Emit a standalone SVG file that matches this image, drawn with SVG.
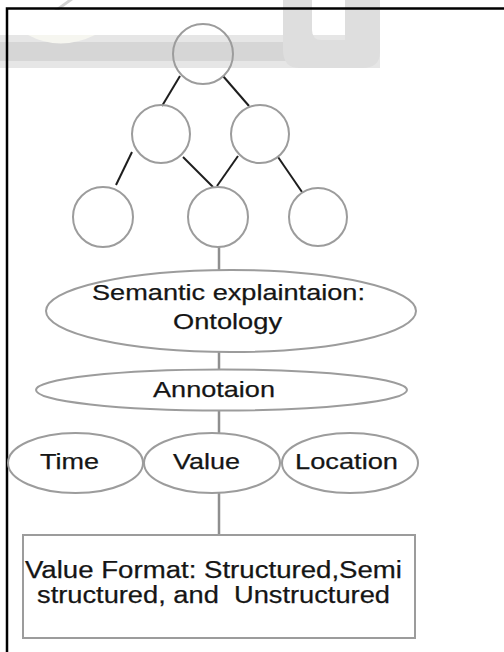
<svg xmlns="http://www.w3.org/2000/svg" width="504" height="652" viewBox="0 0 504 652">
<style>
.node{fill:#fff;stroke:#9c9c9c;stroke-width:2}
.circ{fill:none;stroke:#9c9c9c;stroke-width:2}
.edge{stroke:#1e1e1e;stroke-width:2;fill:none}
.vline{stroke:#8f8f8f;stroke-width:2.5;fill:none}
.lbl{font-family:"Liberation Sans",Arial,sans-serif;font-size:22.5px;fill:#151515;stroke:#151515;stroke-width:0.25}
.big{font-size:23.5px}
.frame{stroke:#000;stroke-width:2.5;fill:none}
.wm{fill:#d6d6d6}
</style>
<rect width="504" height="652" fill="#fff"/>
<g id="watermark">
<rect x="0" y="35" width="380" height="33" fill="#e6e6e6"/>
<rect x="0" y="42" width="372" height="19" class="wm"/>
<path d="M28 35 Q60 52 95 35 Z" fill="#f6f6f0"/>
<path d="M283 0 H312 V30 Q312 40 322 40 H345 V0 H380 V52 Q380 68 362 68 H300 Q283 68 283 50 Z" fill="#dedede"/>
<path d="M54 10 L68 0 H73 L59 10 Z" fill="#d2d2d2"/>
</g>
<g id="frame">
<path class="frame" d="M7 652 V8.5 H504"/>
</g>
<g id="connectors">
<line class="edge" x1="180" y1="76" x2="162" y2="106"/>
<line class="edge" x1="223" y1="76" x2="249" y2="106"/>
<line class="edge" x1="132" y1="152" x2="116" y2="185"/>
<line class="edge" x1="183" y1="157" x2="213" y2="187"/>
<line class="edge" x1="238" y1="156" x2="217" y2="186"/>
<line class="edge" x1="278" y1="157" x2="302" y2="192"/>
<line class="vline" x1="219" y1="247" x2="219" y2="270"/>
<line class="vline" x1="219" y1="352" x2="219" y2="370"/>
<line class="vline" x1="219" y1="411" x2="219" y2="433"/>
<line class="vline" x1="219" y1="493" x2="219" y2="535"/>
</g>
<g id="n-root"><circle class="circ" cx="203" cy="54" r="30"/></g>
<g id="n-mid-left"><circle class="circ" cx="161" cy="134" r="29"/></g>
<g id="n-mid-right"><circle class="circ" cx="260" cy="134" r="29"/></g>
<g id="n-bot-left"><circle class="circ" cx="103" cy="217" r="30"/></g>
<g id="n-bot-mid"><circle class="circ" cx="218" cy="217" r="30"/></g>
<g id="n-bot-right"><circle class="circ" cx="318" cy="217" r="29"/></g>
<g id="n-semantic">
<ellipse class="node" cx="231" cy="311" rx="185" ry="41"/>
<text class="lbl" x="92" y="300" textLength="273" lengthAdjust="spacingAndGlyphs">Semantic explaintaion:</text>
<text class="lbl" x="173" y="329" textLength="109" lengthAdjust="spacingAndGlyphs">Ontology</text>
</g>
<g id="n-annotation">
<ellipse class="node" cx="221.5" cy="390" rx="185.5" ry="20.5"/>
<text class="lbl" x="153" y="397" textLength="122" lengthAdjust="spacingAndGlyphs">Annotaion</text>
</g>
<g id="n-time">
<ellipse class="node" cx="75.5" cy="463" rx="67.5" ry="30"/>
<text class="lbl" x="40" y="468.5" textLength="59" lengthAdjust="spacingAndGlyphs">Time</text>
</g>
<g id="n-value">
<ellipse class="node" cx="212" cy="463" rx="68" ry="30"/>
<text class="lbl" x="173" y="468.5" textLength="67" lengthAdjust="spacingAndGlyphs">Value</text>
</g>
<g id="n-location">
<ellipse class="node" cx="350" cy="463" rx="68" ry="30"/>
<text class="lbl" x="295" y="468.5" textLength="103" lengthAdjust="spacingAndGlyphs">Location</text>
</g>
<g id="n-format">
<rect class="node" x="23" y="535" width="392" height="103" stroke-width="2.5"/>
<text class="lbl big" x="25" y="577.5" textLength="377" lengthAdjust="spacingAndGlyphs">Value Format: Structured,Semi</text>
<text class="lbl big" x="37" y="603" textLength="353" lengthAdjust="spacingAndGlyphs" xml:space="preserve" style="white-space:pre">structured, and  Unstructured</text>
</g>
</svg>
